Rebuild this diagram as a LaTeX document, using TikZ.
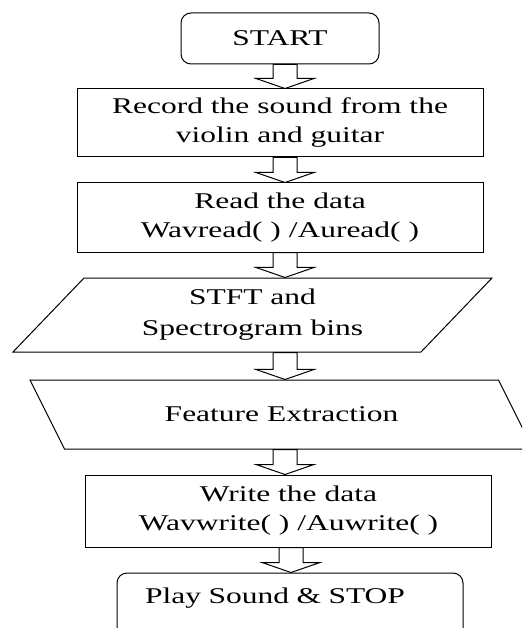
\documentclass[tikz,border=0pt]{standalone}
\usepackage{fontspec}
\setmainfont{Liberation Serif}[FakeStretch=1.4]
\usepackage{tikz}
\usetikzlibrary{calc,positioning,shapes.geometric}
\tikzset{%
	startstop/.style = {draw, rectangle, rounded corners=10pt, minimum width=198pt, minimum height=51pt, text centered},
	stopbox/.style   = {draw, rectangle, rounded corners=10pt, text width=290pt, inner xsep=28pt, inner ysep=0pt, text height=30pt, text depth=40pt, align=left},
	process/.style   = {draw, rectangle, minimum width=406pt, minimum height=68pt, align=center},
	inout/.style     = {draw, trapezium, trapezium stretches body, inner sep=2pt, align=center, font=\fontsize{22.5pt}{31pt}\selectfont},
	fatarrow/.style  = {draw, fill=white, line join=miter},
}
% hollow block arrow between two nodes
\newcommand{\blockarrow}[3][0pt]{%
	\draw[fatarrow] let \p1=(axis |- #2.south), \p2=(axis |- #3.north) in
		(\x1+#1-12pt,\y1) -- (\x1+#1-12pt,\y2+10pt) -- (\x1+#1-29pt,\y2+10pt) -- (\x1+#1,\y2)
		-- (\x1+#1+29pt,\y2+10pt) -- (\x1+#1+12pt,\y2+10pt) -- (\x1+#1+12pt,\y1) -- cycle;
}

\begin{document}
\begin{tikzpicture}[line width=1pt, font=\fontsize{22.5pt}{29pt}\selectfont]
	\useasboundingbox (0,0) rectangle (522pt,-628pt);
	\clip (0,0) rectangle (522pt,-628pt);
	\coordinate (axis) at (285pt,0);

	\node [startstop] (start) at (280pt,-38.5pt) {START};
	\node [process] (rec) [below of=start, node distance=84.5pt] {Record the sound from the\\violin and guitar};
	\node [process, minimum height=69pt] (read) [below of=rec, node distance=94.5pt] {Read the data\\Wavread( ) /Auread( )};
	\node [inout, trapezium left angle=38, trapezium right angle=142, minimum width=479pt, minimum height=74pt] (stft) [below of=read, node distance=97.5pt, xshift=-27.5pt] {STFT and\\Spectrogram bins};
	\node [inout, trapezium left angle=151, trapezium right angle=29, minimum width=503pt, minimum height=69pt] (feat) [below of=stft, node distance=99.5pt, xshift=29pt] {Feature Extraction};
	\node [process, minimum height=72pt] (write) [below of=feat, node distance=96.5pt, xshift=7pt] {Write the data\\Wavwrite( ) /Auwrite( )};
	\node [stopbox] (play) [below of=write, node distance=97pt, xshift=1.5pt] {Play Sound \& STOP};

	\blockarrow{start}{rec}
	\blockarrow{rec}{read}
	\blockarrow{read}{stft}
	\blockarrow{stft}{feat}
	\blockarrow{feat}{write}
	\blockarrow[6pt]{write}{play}
\end{tikzpicture}
\end{document}
